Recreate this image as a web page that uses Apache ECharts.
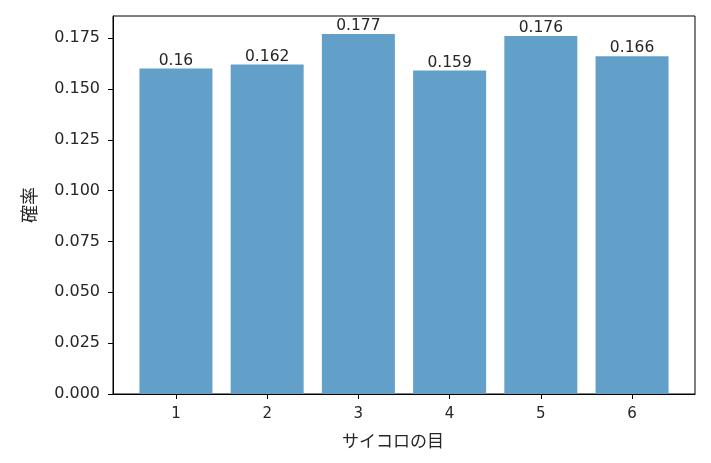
<!DOCTYPE html>
<html>
<head>
<meta charset="utf-8">
<script src="https://cdn.jsdelivr.net/npm/echarts@6/dist/echarts.min.js"></script>
<style>html,body{margin:0;padding:0;background:#fff}#c{width:711px;height:463px}</style>
</head>
<body>
<div id="c"></div>
<script>
const faces = [1, 2, 3, 4, 5, 6];
const probs = [0.16, 0.162, 0.177, 0.159, 0.176, 0.166];
const yTicks = [0, 0.025, 0.05, 0.075, 0.1, 0.125, 0.15, 0.175];

const chart = echarts.init(document.getElementById('c'));
const font = '"DejaVu Sans", sans-serif';
chart.setOption({
  animation: false,
  grid: { left: 113, right: 16, top: 16, bottom: 69, show: true, borderColor: '#000', borderWidth: 1, backgroundColor: 'transparent' },
  xAxis: {
    type: 'value', min: 0.31, max: 6.69,
    name: 'サイコロの目', nameLocation: 'middle', nameGap: 38,
    nameTextStyle: { fontFamily: '"Noto Sans CJK JP", sans-serif', fontSize: 17, color: '#262626', padding: [0, 22, 0, 0] },
    splitLine: { show: false },
    axisLine: { show: true, lineStyle: { color: '#000' } },
    axisTick: { show: true, length: 5, lineStyle: { color: '#000' }, customValues: faces },
    axisLabel: { customValues: faces, fontFamily: font, fontSize: 15, color: '#262626', margin: 13, formatter: v => String(v) }
  },
  yAxis: {
    type: 'value', min: 0, max: 0.18585,
    name: '確率', nameLocation: 'middle', nameGap: 75, nameRotate: 90,
    nameTextStyle: { fontFamily: '"Noto Sans CJK JP", sans-serif', fontSize: 18, color: '#262626' },
    splitLine: { show: false },
    axisLine: { show: true, lineStyle: { color: '#000' } },
    axisTick: { show: true, length: 5, lineStyle: { color: '#000' }, customValues: yTicks },
    axisLabel: { customValues: yTicks, fontFamily: font, fontSize: 16, color: '#262626', margin: 13, formatter: v => v.toFixed(3) }
  },
  series: [{
    type: 'bar',
    barWidth: 73,
    data: faces.map((f, i) => [f, probs[i]]),
    itemStyle: { color: '#62a0ca' },
    label: { show: true, position: 'top', distance: 0, fontFamily: font, fontSize: 15.5, color: '#262626', formatter: p => String(p.value[1]) }
  }]
});
</script>
</body>
</html>
